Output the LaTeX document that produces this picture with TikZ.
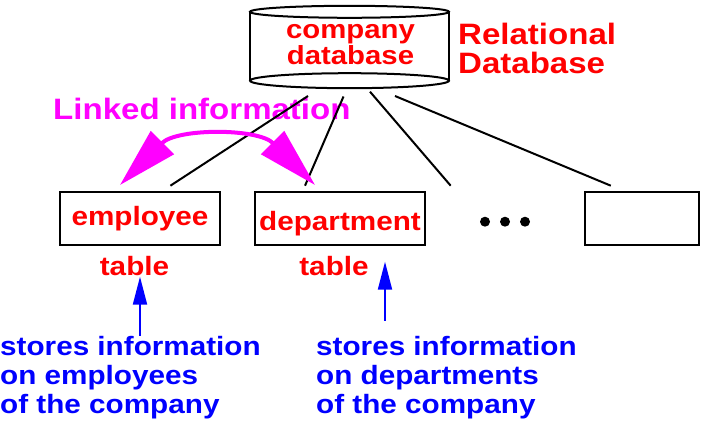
\documentclass[tikz,border=0pt]{standalone}
\usepackage{fontspec}
\setmainfont{Liberation Sans}[FakeStretch=1.12]
\usetikzlibrary{arrows.meta}
\definecolor{linkmagenta}{RGB}{255,0,255}
\definecolor{notered}{RGB}{255,0,0}
\definecolor{noteblue}{RGB}{0,0,255}
\newcommand{\midfont}{\fontsize{26.5}{29}\selectfont\bfseries}
\newcommand{\bigfont}{\fontsize{29.5}{28.3}\selectfont\bfseries}

\begin{document}
\begin{tikzpicture}[x=1pt,y=-1pt,
  redlabel/.style={text=notered, font=\midfont, inner sep=0pt},
  redbig/.style={text=notered, font=\bigfont, inner sep=0pt, align=left},
  bluelabel/.style={text=noteblue, font=\midfont, inner sep=0pt, align=left},
  tablebox/.style={draw, line width=2pt, minimum height=53pt, inner sep=0pt, text=notered, font=\midfont},
  dbline/.style={line width=2pt},
  linkarc/.style={linkmagenta, line width=4pt, {Triangle[length=60pt,width=32pt]}-{Triangle[length=60pt,width=32pt]}},
  infoarrow/.style={noteblue, line width=2pt, -{Triangle[length=28pt,width=14pt]}}]
\useasboundingbox (0,0) rectangle (702,425);

% database
\draw[dbline] (349.5,11.8) ellipse [x radius=99.5pt, y radius=6pt];
\draw[dbline] (250,11.8) -- (250,80.7);
\draw[dbline] (449,11.8) -- (449,80.7);
\draw[dbline] (349.5,80.7) ellipse [x radius=99.5pt, y radius=7.5pt];
\node[redlabel, align=center, anchor=base, font=\fontsize{26.2}{24.3}\selectfont\bfseries] (db) at (350.5,64.3) {company\\database};
\node[redbig, anchor=base west] (reldb) at (458,73.3) {Relational\\Database};
\node[redbig, text=linkmagenta, anchor=base west] (link) at (53,120) {Linked information};

% tables
\node[tablebox, minimum width=159.4pt] (emp) at (140,218.2) {employee};
\node[tablebox, minimum width=169.4pt, text height=29.2pt, text depth=5.6pt] (dept) at (340,218.2) {department};
\node[tablebox, minimum width=113.7pt] (other) at (642.2,218.2) {};
\fill (485,221.7) circle [radius=5pt];
\fill (505,221.7) circle [radius=5pt];
\fill (525,221.7) circle [radius=5pt];

\node[redlabel, anchor=base] (tab1) at (134.5,275) {table};
\node[redlabel, anchor=base] (tab2) at (334,275) {table};

% lines to the tables
\coordinate (db1) at (308,96);
\coordinate (db2) at (343.5,96.5);
\coordinate (db3) at (370,91.7);
\coordinate (db4) at (395,96);
\coordinate (t1) at (170.4,185.7);
\coordinate (t2) at (305,185.7);
\coordinate (t3) at (450.7,185.7);
\coordinate (t4) at (610.8,185.7);
\draw[dbline] (db1) -- (t1);
\draw[dbline] (db2) -- (t2);
\draw[dbline] (db3) -- (t3);
\draw[dbline] (db4) -- (t4);

% link
\coordinate (linkL) at (120,185);
\coordinate (linkR) at (315,185);
\draw[linkarc] (linkL) .. controls (177,128) and (258,128) .. (linkR);

% notes
\node[bluelabel, anchor=base west] (info1) at (0,413) {stores information\\on employees\\of the company};
\node[bluelabel, anchor=base west] (info2) at (316,413) {stores information\\on departments\\of the company};
\coordinate (a1s) at (140,335.7);
\coordinate (a1e) at (140,276.7);
\coordinate (a2s) at (385,320.7);
\coordinate (a2e) at (385,261.7);
\draw[infoarrow] (a1s) -- (a1e);
\draw[infoarrow] (a2s) -- (a2e);

\end{tikzpicture}
\end{document}
